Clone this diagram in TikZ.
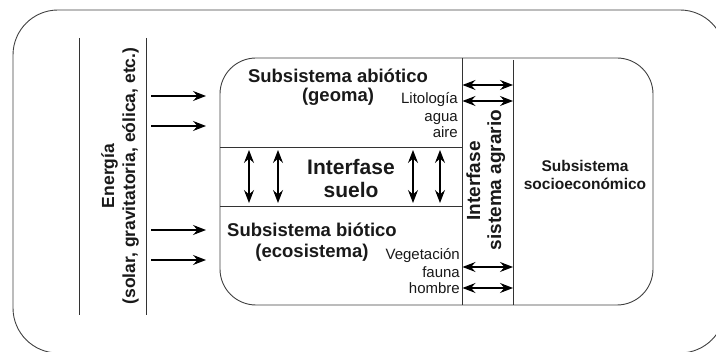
\documentclass[tikz,border=0pt]{standalone}
\usepackage{fontspec}
\setmainfont{Liberation Sans}
\usetikzlibrary{arrows.meta}
\begin{document}
\begin{tikzpicture}[x=1pt,y=-1pt,
  frame/.style={draw=black!75, line width=0.9pt},
  rule/.style={draw=black!80, line width=0.8pt},
  head/.tip={Stealth[length=13pt,width=10pt,inset=4.5pt]},
  flow/.style={draw=black, line width=1.1pt, -head},
  swap/.style={draw=black, line width=1.1pt, head-head},
  lbl/.style={inner sep=0pt, anchor=base, text=black!90},
  title/.style={lbl, font=\bfseries\fontsize{18.5}{20}\selectfont},
  small/.style={lbl, anchor=base east, font=\fontsize{15}{17}\selectfont},
  vert/.style={lbl, rotate=90}]
\useasboundingbox (0,0) rectangle (716,352);
\begin{scope}
\clip (0,0) rectangle (716,352);
% outer boundary
\draw[frame, rounded corners=45pt] (13,10) rectangle (725,353);
\end{scope}
% inner soil system boundary
\draw[frame, rounded corners=36pt] (220,58) rectangle (653,305);
% energy column
\coordinate (e1t) at (79,38);  \coordinate (e1b) at (79,315);
\coordinate (e2t) at (146,38); \coordinate (e2b) at (146,315);
\draw[rule] (e1t) -- (e1b);
\draw[rule] (e2t) -- (e2b);
\node[vert, font=\bfseries\fontsize{17.5}{20}\selectfont] (energy1) at (114,176) {Energía};
\node[vert, font=\bfseries\fontsize{17.5}{20}\selectfont] (energy2) at (135,176) {(solar, gravitatoria, eólica, etc.)};
% energy inputs
\foreach \y/\n in {96/a,126/b,230/c,260/d}{
  \coordinate (s\n) at (151,\y);
  \coordinate (t\n) at (206,\y);
  \draw[flow] (s\n) -- (t\n);
}
% horizontal soil interface bounds
\coordinate (h1l) at (220,147); \coordinate (h1r) at (462,147);
\coordinate (h2l) at (220,206); \coordinate (h2r) at (462,206);
\draw[rule] (h1l) -- (h1r);
\draw[rule] (h2l) -- (h2r);
% agrarian interface bounds
\coordinate (v1t) at (462,58);  \coordinate (v1b) at (462,305);
\coordinate (v2t) at (513,60);  \coordinate (v2b) at (513,305);
\draw[rule] (v1t) -- (v1b);
\draw[rule] (v2t) -- (v2b);
% abiotic subsystem
\node[title] (abio1) at (338,83) {Subsistema abiótico};
\node[title] (abio2) at (338,102) {(geoma)};
\node[small] (lito1) at (458,104) {Litología};
\node[small] (lito2) at (458,122) {agua};
\node[small] (lito3) at (458,138) {aire};
% soil interface
\node[lbl, font=\bfseries\fontsize{21}{23}\selectfont] (suelo1) at (351,175) {Interfase};
\node[lbl, font=\bfseries\fontsize{21}{23}\selectfont] (suelo2) at (351,198) {suelo};
% biotic subsystem
\node[title] (bio1) at (312,237) {Subsistema biótico};
\node[title] (bio2) at (312,258) {(ecosistema)};
\node[small] (veg1) at (460,260) {Vegetación};
\node[small] (veg2) at (460,278) {fauna};
\node[small] (veg3) at (460,294) {hombre};
% agrarian interface
\node[vert, font=\bfseries\fontsize{19}{21}\selectfont] (agr1) at (480,181) {Interfase};
\node[vert, font=\bfseries\fontsize{19}{21}\selectfont] (agr2) at (501,180) {sistema agrario};
% socio-economic subsystem
\node[lbl, font=\bfseries\fontsize{15.5}{18}\selectfont] (socio1) at (585,172) {Subsistema};
\node[lbl, font=\bfseries\fontsize{15.5}{18}\selectfont] (socio2) at (585,190) {socioeconómico};
% exchanges across the agrarian interface
\foreach \y/\n in {85/p,101/q,267/r,288/s}{
  \coordinate (l\n) at (462.5,\y);
  \coordinate (r\n) at (513,\y);
  \draw[swap] (l\n) -- (r\n);
}
% vertical exchanges in the soil interface
\foreach \x/\n in {249/i,278/j,413/k,440/m}{
  \coordinate (u\n) at (\x,150);
  \coordinate (d\n) at (\x,203);
  \draw[swap] (u\n) -- (d\n);
}
\end{tikzpicture}
\end{document}
